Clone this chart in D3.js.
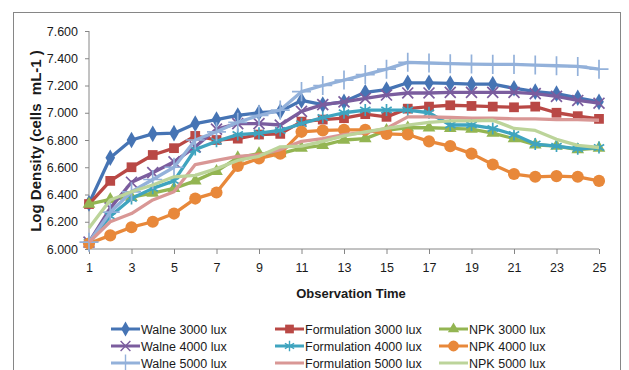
<!DOCTYPE html>
<html lang="en">
<head>
  <meta charset="UTF-8">
  <title>Log Density</title>
  <script src="https://d3js.org/d3.v7.min.js"></script>
  <style>
    body { margin: 0; background: #fff; }
    text { font-family: "Liberation Sans", Arial, sans-serif; fill: #1a1a1a; }
    .axis path, .axis line { stroke: #868686; }
    .axis text { font-size: 12.5px; }
    .title { font-size: 13px; font-weight: bold; white-space: pre; }
    .ytitle { font-size: 15px; }
    .legend text { font-size: 12.5px; }
  </style>
</head>
<body>
  <div id="chart"></div>
  <script>
    // observation times 1..25
    const times = d3.range(1, 26);
    const yTicks = [6.0, 6.2, 6.4, 6.6, 6.8, 7.0, 7.2, 7.4, 7.6];
    const xTicks = [1, 3, 5, 7, 9, 11, 13, 15, 17, 19, 21, 23, 25];

    const seriesNames = [
      "Walne 3000 lux", "Formulation 3000 lux", "NPK 3000 lux",
      "Walne 4000 lux", "Formulation 4000 lux", "NPK 4000 lux",
      "Walne 5000 lux", "Formulation 5000 lux", "NPK 5000 lux"
    ];

    const walne3000 = [6.335, 6.67, 6.80, 6.845, 6.85, 6.92, 6.95, 6.98, 7.00, 7.01, 7.09, 7.06, 7.08, 7.15, 7.17, 7.22, 7.22, 7.215, 7.21, 7.21, 7.18, 7.155, 7.14, 7.11, 7.08];
    const form3000 = [6.33, 6.50, 6.60, 6.69, 6.74, 6.83, 6.80, 6.81, 6.84, 6.845, 6.935, 6.95, 6.96, 6.99, 6.97, 7.03, 7.045, 7.055, 7.05, 7.045, 7.04, 7.045, 7.00, 6.975, 6.955];
    const npk3000 = [6.33, 6.365, 6.38, 6.41, 6.445, 6.50, 6.57, 6.67, 6.70, 6.70, 6.74, 6.76, 6.80, 6.81, 6.87, 6.89, 6.89, 6.885, 6.88, 6.85, 6.81, 6.765, 6.755, 6.73, 6.74];
    const walne4000 = [6.05, 6.30, 6.49, 6.56, 6.64, 6.75, 6.88, 6.92, 6.92, 6.91, 7.01, 7.06, 7.08, 7.105, 7.13, 7.145, 7.145, 7.15, 7.15, 7.15, 7.15, 7.14, 7.12, 7.09, 7.07];
    const form4000 = [6.05, 6.24, 6.37, 6.445, 6.50, 6.73, 6.79, 6.84, 6.85, 6.87, 6.92, 6.965, 7.0, 7.02, 7.02, 7.02, 7.00, 6.91, 6.91, 6.885, 6.84, 6.77, 6.755, 6.735, 6.745];
    const npk4000 = [6.04, 6.10, 6.16, 6.20, 6.26, 6.37, 6.415, 6.61, 6.665, 6.70, 6.86, 6.87, 6.875, 6.875, 6.845, 6.84, 6.79, 6.755, 6.70, 6.62, 6.55, 6.53, 6.535, 6.53, 6.50];
    const walne5000 = [6.05, 6.27, 6.42, 6.51, 6.60, 6.80, 6.86, 6.93, 6.98, 7.02, 7.155, 7.20, 7.24, 7.28, 7.32, 7.37, 7.365, 7.36, 7.357, 7.355, 7.355, 7.35, 7.345, 7.34, 7.32];
    const form5000 = [6.05, 6.20, 6.26, 6.36, 6.42, 6.62, 6.65, 6.68, 6.69, 6.73, 6.79, 6.81, 6.84, 6.855, 6.885, 6.97, 6.97, 6.965, 6.96, 6.96, 6.955, 6.955, 6.95, 6.95, 6.945];
    const npk5000 = [6.155, 6.36, 6.42, 6.47, 6.53, 6.54, 6.59, 6.65, 6.68, 6.75, 6.755, 6.79, 6.83, 6.86, 6.885, 6.91, 6.93, 6.94, 6.94, 6.945, 6.885, 6.87, 6.805, 6.76, 6.745];

    const allValues = [walne3000, form3000, npk3000, walne4000, form4000, npk4000, walne5000, form5000, npk5000];

    // look of each series (same order as names)
    const styles = [
      { color: "#4674b4", symbol: d3.symbolDiamond, size: 80, filled: true },
      { color: "#b94845", symbol: d3.symbolSquare, size: 95, filled: true },
      { color: "#93b552", symbol: d3.symbolTriangle, size: 70, filled: true },
      { color: "#7b5d9e", symbol: d3.symbolX, size: 80, filled: false },
      { color: "#3fa4bf", symbol: d3.symbolAsterisk, size: 100, filled: false },
      { color: "#e8883a", symbol: d3.symbolCircle, size: 115, filled: true },
      { color: "#93b1da", symbol: d3.symbolPlus, size: 120, filled: false },
      { color: "#d99795", symbol: null },
      { color: "#bcd49a", symbol: null }
    ];

    const W = 629, H = 370;
    const margin = { top: 31, right: 30, bottom: 121, left: 89 };
    const width = W - margin.left - margin.right;
    const height = H - margin.top - margin.bottom;

    const root = d3.select("#chart")
      .append("svg")
      .attr("width", W)
      .attr("height", H);

    // outer chart frame
    root.append("rect")
      .attr("x", 13.5).attr("y", 12.5)
      .attr("width", 607).attr("height", 370)
      .attr("fill", "none")
      .attr("stroke", "#868686");

    const svg = root.append("g")
      .attr("transform", `translate(${margin.left}, ${margin.top})`);

    const x = d3.scaleLinear().domain([1, 25]).range([0, width]);
    const y = d3.scaleLinear().domain([6.0, 7.6]).range([height, 0]);

    svg.append("g")
      .attr("class", "axis")
      .call(d3.axisLeft(y).tickValues(yTicks).tickFormat(d3.format(".3f")).tickSize(4).tickPadding(7));

    svg.append("g")
      .attr("class", "axis")
      .attr("transform", `translate(0, ${height})`)
      .call(d3.axisBottom(x).tickValues(xTicks).tickFormat(d3.format("d")).tickSize(5).tickPadding(9));

    svg.selectAll(".axis .domain")
      .attr("d", function() {
        return d3.select(this.parentNode).attr("transform") ? `M0,0H${width}` : `M0,0V${height}`;
      });

    const line = d3.line()
      .x((d, i) => x(times[i]))
      .y(d => y(d));

    const series = svg.selectAll(".series")
      .data(allValues)
      .enter()
      .append("g")
      .attr("class", "series");

    series.append("path")
      .attr("d", d => line(d))
      .attr("fill", "none")
      .attr("stroke", (d, i) => styles[i].color)
      .attr("stroke-width", 3.3)
      .attr("stroke-linejoin", "round");

    series.each(function(vals, i) {
      const s = styles[i];
      if (!s.symbol) return;
      d3.select(this).selectAll(".pt")
        .data(vals)
        .enter()
        .append("path")
        .attr("transform", (d, j) => `translate(${x(times[j])}, ${y(d)})`)
        .attr("d", d3.symbol().type(s.symbol).size(s.size))
        .attr("fill", s.filled ? s.color : "none")
        .attr("stroke", s.color)
        .attr("stroke-width", s.filled ? 0 : 1.7);
    });

    // axis titles
    root.append("text")
      .attr("class", "title")
      .attr("x", 351).attr("y", 298)
      .attr("text-anchor", "middle")
      .text("Observation Time");

    root.append("text")
      .attr("class", "title ytitle")
      .attr("transform", "translate(41, 141) rotate(-90)")
      .attr("text-anchor", "middle")
      .text("Log Density (cells  mL-1 )");

    // legend, 3 columns
    const legendX = [111, 275, 439];
    const legendY = [329, 346, 363];

    const legend = root.append("g").attr("class", "legend");
    seriesNames.forEach((name, i) => {
      const s = styles[i];
      const g = legend.append("g")
        .attr("transform", `translate(${legendX[i % 3]}, ${legendY[Math.floor(i / 3)]})`);
      g.append("line")
        .attr("x1", 0).attr("x2", 29)
        .attr("stroke", s.color)
        .attr("stroke-width", 3);
      if (s.symbol) {
        g.append("path")
          .attr("transform", "translate(14.5, 0)")
          .attr("d", d3.symbol().type(s.symbol).size(s.size * 0.8))
          .attr("fill", s.filled ? s.color : "none")
          .attr("stroke", s.color)
          .attr("stroke-width", s.filled ? 0 : 1.4);
      }
      g.append("text")
        .attr("x", 30).attr("y", 4.5)
        .text(name);
    });
  </script>
</body>
</html>
